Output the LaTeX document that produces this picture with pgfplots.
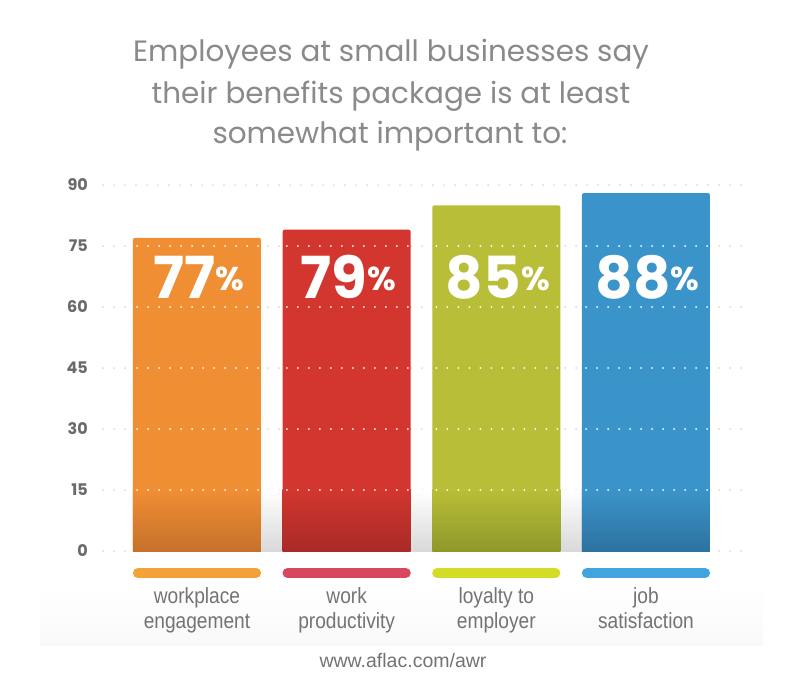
\documentclass[border=0pt]{standalone}
\usepackage{pgfplots}
\pgfplotsset{compat=1.18}
\usepackage{fontspec}
\setmainfont{Poppins}
\newfontfamily\labfont[FakeStretch=0.87]{Liberation Sans}
\newfontfamily\footfont{Liberation Sans}
\definecolor{titlegray}{HTML}{8A8A8A}
\definecolor{tickgray}{HTML}{6A6A6A}
\definecolor{labgray}{HTML}{737373}
\definecolor{dotgray}{HTML}{DADADA}
\definecolor{bandgray}{HTML}{F9F9F9}
\definecolor{cOr}{HTML}{F08E34}\definecolor{dOr}{HTML}{C6712A}
\definecolor{cRe}{HTML}{D3362F}\definecolor{dRe}{HTML}{A92A27}
\definecolor{cGr}{HTML}{B8BE37}\definecolor{dGr}{HTML}{8F992B}
\definecolor{cBl}{HTML}{3B94C9}\definecolor{dBl}{HTML}{2D72A1}
\definecolor{pOr}{HTML}{F3A23A}\definecolor{pRe}{HTML}{D9475E}
\definecolor{pGr}{HTML}{D4DC25}\definecolor{pBl}{HTML}{41A4DE}
\begin{document}
\begin{tikzpicture}
\path[use as bounding box] (0pt,0pt) rectangle (808pt,-677pt);
\fill[white] (0pt,0pt) rectangle (808pt,-677pt);
\shade[top color=white, bottom color=bandgray] (40pt,-586pt) rectangle (763pt,-645pt);
% title
\node[anchor=base,text=titlegray,font=\fontsize{29.4}{34}\selectfont] at (391pt,-62pt) {Employees at small businesses say};
\node[anchor=base,text=titlegray,font=\fontsize{29.4}{34}\selectfont] at (391pt,-103pt) {their benefits package is at least};
\node[anchor=base,text=titlegray,font=\fontsize{29.4}{34}\selectfont] at (390pt,-143pt) {somewhat important to:};
\begin{axis}[
  at={(103pt,-551pt)}, anchor=south west,
  scale only axis, width=644pt, height=366pt,
  xmin=-0.628, xmax=3.675, ymin=0, ymax=90,
  clip=false,
  axis line style={draw=none},
  major tick length=0pt,
  ytick={0,15,30,45,60,75,90},
  yticklabel style={anchor=east, inner sep=0pt, xshift=-15pt, text=tickgray, font=\bfseries\fontsize{16}{16}\selectfont},
  /pgf/number format/assume math mode=true,
  ymajorgrids,
  grid style={dotgray, line width=2pt, line cap=round, dash pattern=on 0pt off 11pt},
  xtick={0,1,2,3},
  xticklabels={{workplace\\engagement},{work\\productivity},{loyalty to\\employer},{job\\satisfaction}},
  xticklabel style={anchor=north, inner sep=0pt, yshift=-36pt, align=center, text=labgray, font=\labfont\fontsize{22}{25}\selectfont},
]
% gray band between bars
\addplot[draw=none, top color=white, bottom color=black!15] coordinates {(0,0) (0,15) (3,15) (3,0)} -- cycle;
% bars
\addplot[ybar, bar width=128pt, bar shift=0pt, fill=cOr, draw=none, rounded corners=2pt] coordinates {(0,77)};
\addplot[ybar, bar width=128pt, bar shift=0pt, fill=cRe, draw=none, rounded corners=2pt] coordinates {(1,79)};
\addplot[ybar, bar width=128pt, bar shift=0pt, fill=cGr, draw=none, rounded corners=2pt] coordinates {(2,85)};
\addplot[ybar, bar width=128pt, bar shift=0pt, fill=cBl, draw=none, rounded corners=2pt] coordinates {(3,88)};
% darker bottom gradients
\addplot[ybar, bar width=128pt, bar shift=0pt, top color=cOr, bottom color=dOr, draw=none] coordinates {(0,15.2)};
\addplot[ybar, bar width=128pt, bar shift=0pt, top color=cRe, bottom color=dRe, draw=none] coordinates {(1,15.2)};
\addplot[ybar, bar width=128pt, bar shift=0pt, top color=cGr, bottom color=dGr, draw=none] coordinates {(2,15.2)};
\addplot[ybar, bar width=128pt, bar shift=0pt, top color=cBl, bottom color=dBl, draw=none] coordinates {(3,15.2)};
% white dotted grid on bars
\pgfplotsinvokeforeach{15,30,45,60,75}{
\addplot[white, line width=2pt, line cap=round, dash pattern=on 0pt off 11pt, unbounded coords=jump, forget plot]
  coordinates {(-0.40,#1) (0.42,#1) (nan,nan) (0.60,#1) (1.42,#1) (nan,nan) (1.60,#1) (2.42,#1) (nan,nan) (2.60,#1) (3.42,#1)};
}
% colored pills
\addplot[pOr, line width=10pt, line cap=round] coordinates {(-0.395,-5.4) (0.395,-5.4)};
\addplot[pRe, line width=10pt, line cap=round] coordinates {(0.605,-5.4) (1.395,-5.4)};
\addplot[pGr, line width=10pt, line cap=round] coordinates {(1.605,-5.4) (2.395,-5.4)};
\addplot[pBl, line width=10pt, line cap=round] coordinates {(2.605,-5.4) (3.395,-5.4)};
% value labels
\addplot[draw=none, mark=none, point meta=explicit symbolic,
  nodes near coords={{\fontsize{58}{58}\selectfont\bfseries\pgfplotspointmeta}{\raisebox{8pt}{\fontsize{33}{33}\selectfont\bfseries\%}}},
  nodes near coords style={anchor=base, text=white, inner sep=0pt}]
  coordinates {(0.01,62.2) [77] (1.01,62.2) [79] (2.01,62.2) [85] (3.01,62.2) [88]};
\end{axis}
\node[anchor=base, text=labgray, font=\footfont\fontsize{19.5}{20}\selectfont] at (403pt,-667pt) {www.aflac.com/awr};
\end{tikzpicture}
\end{document}
